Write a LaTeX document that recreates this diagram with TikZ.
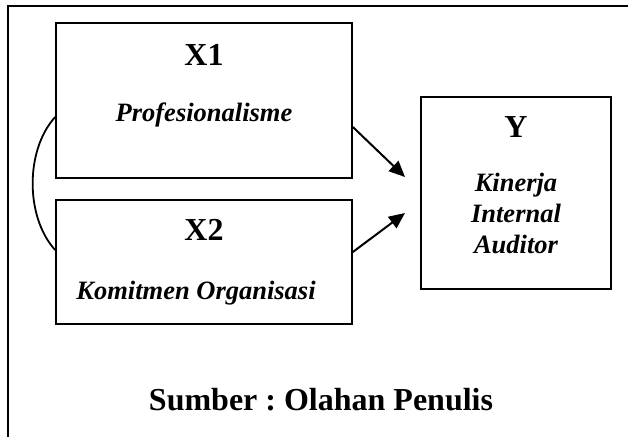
\documentclass[tikz,border=0pt]{standalone}
\usepackage{fontspec}
\setmainfont{Liberation Serif}
\usetikzlibrary{arrows.meta,calc}
\frenchspacing
\begin{document}
\begin{tikzpicture}[x=1pt,y=-1pt,
  box/.style={draw, line width=1.7pt, inner sep=0pt},
  big/.style={font=\fontsize{32}{32}\selectfont\bfseries, inner sep=0pt},
  lab/.style={font=\fontsize{26.5}{30}\selectfont\bfseries\itshape, inner sep=0pt},
  arr/.style={-{Triangle[length=16pt,width=14pt]}, line width=2pt}]
\useasboundingbox (0,0) rectangle (628,437);
\draw[line width=2.2pt] (628,6) -- (8,6) -- (8,437);
\node[box, minimum width=296pt, minimum height=155pt] (x1) at (204,100.5) {};
\node[box, minimum width=296pt, minimum height=124pt] (x2) at (204,262) {};
\node[box, minimum width=190pt, minimum height=192pt] (y) at (516,193) {};
\node[big] (x1t) at (204,55) {X1};
\node[lab] (x1l) at (204,115) {Profesionalisme};
\node[big] (x2t) at (204,230) {X2};
\node[lab] (x2l) at (196,293) {Komitmen Organisasi};
\node[big] (yt) at (516,127) {Y};
\node[lab] (yl1) at (516,185) {Kinerja};
\node[lab] (yl2) at (516,213) {Internal};
\node[lab] (yl3) at (516,244) {Auditor};
\node[big] (src) at (321,400) {Sumber : Olahan Penulis};
\coordinate (t1) at (405,177);
\coordinate (t2) at (405,213);
\draw[arr] ($(x1.east)+(0,26.5)$) -- (t1);
\draw[arr] ($(x2.east)+(0,-10)$) -- (t2);
\draw[line width=1.8pt] ($(x1.west)+(0,16.5)$) .. controls ($(x1.west)+(-30,49.5)$) and ($(x2.west)+(-30,-45)$) .. ($(x2.west)+(0,-12)$);
\end{tikzpicture}
\end{document}
